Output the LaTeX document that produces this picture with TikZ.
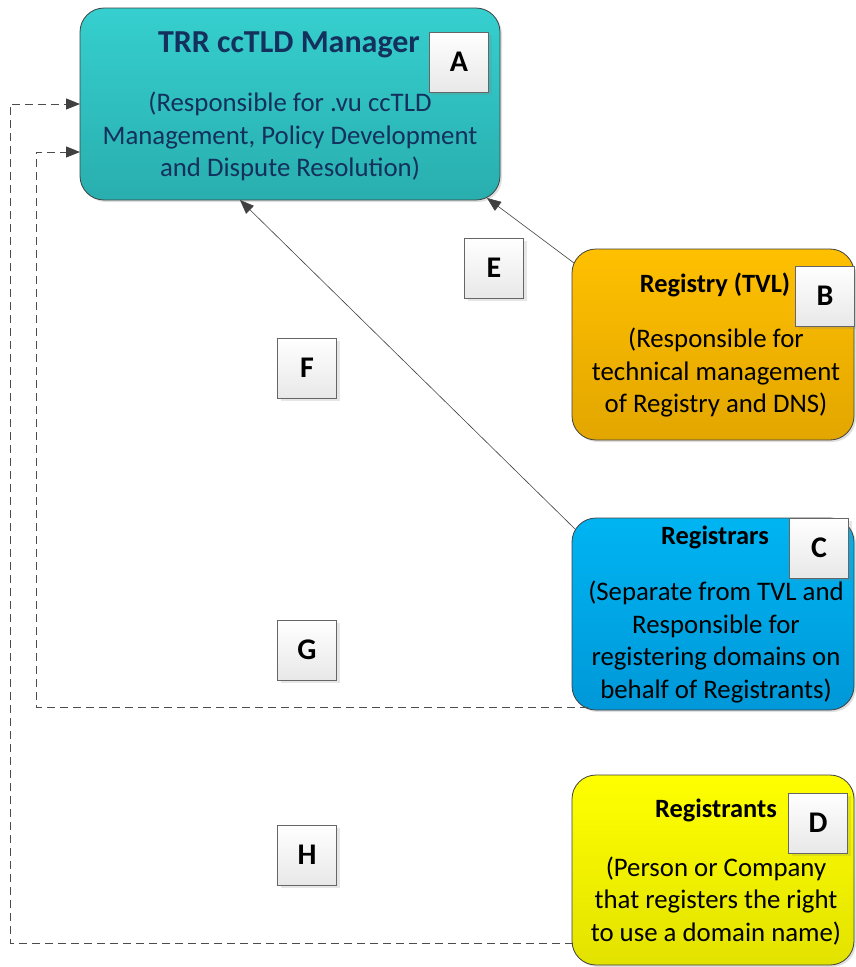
\documentclass[tikz,border=0pt]{standalone}
\usepackage{fontspec}
\setmainfont{Carlito}
\usetikzlibrary{arrows.meta,shadows}
\definecolor{navy}{HTML}{14305C}
\definecolor{tealT}{HTML}{36CFCF}
\definecolor{tealB}{HTML}{29AEAE}
\definecolor{orgT}{HTML}{FFC000}
\definecolor{orgB}{HTML}{E2A600}
\definecolor{bluT}{HTML}{00B4F2}
\definecolor{bluB}{HTML}{0098D8}
\definecolor{yelT}{HTML}{FFFF00}
\definecolor{yelB}{HTML}{E2E200}
\definecolor{lineC}{HTML}{404040}
\tikzset{
  bigbox/.style={draw=lineC, line width=0.8pt, rounded corners=24pt, inner sep=0pt,
    drop shadow={opacity=0.25, shadow xshift=2pt, shadow yshift=-2pt}},
  lbl/.style={draw=gray!80!black, line width=0.8pt, top color=white, bottom color=black!9,
    minimum width=59pt, minimum height=60pt, inner sep=0pt,
    font=\fontsize{30}{34}\selectfont\bfseries,
    drop shadow={opacity=0.2, shadow xshift=3pt, shadow yshift=-3pt}},
  ttl/.style={inner sep=0pt, font=\fontsize{26.4}{30}\selectfont\bfseries},
  body/.style={inner sep=0pt, align=center, font=\fontsize{26.8}{32.5}\selectfont},
  conn/.style={draw=lineC, line width=0.6pt, -{Triangle[length=14pt,width=11pt]}},
  dline/.style={draw=black!70, line width=1pt, dash pattern=on 8pt off 5pt,
    -{Triangle[length=14pt,width=11pt,color=lineC]}},
}
\begin{document}
\begin{tikzpicture}[x=1pt,y=-1pt]
\useasboundingbox (0,0) rectangle (855,967);
% main boxes
\node[bigbox, top color=tealT, bottom color=tealB, minimum width=420pt, minimum height=192pt] (A) at (290,104) {};
\node[bigbox, top color=orgT, bottom color=orgB, minimum width=282pt, minimum height=191pt] (B) at (713,344.5) {};
\node[bigbox, top color=bluT, bottom color=bluB, minimum width=282pt, minimum height=192pt] (C) at (713,614) {};
\node[bigbox, top color=yelT, bottom color=yelB, minimum width=282pt, minimum height=190pt] (D) at (713,870) {};
% texts
\node[ttl, text=navy, font=\fontsize{32}{36}\selectfont\bfseries] (At) at (289,45) {TRR ccTLD Manager};
\node[body, text=navy] (Ab) at (290,136.5) {(Responsible for .vu ccTLD\\Management, Policy Development\\and Dispute Resolution)};
\node[ttl] (Bt) at (715,285) {Registry (TVL)};
\node[body] (Bb) at (716,373) {(Responsible for\\technical management\\of Registry and DNS)};
\node[ttl] (Ct) at (715,537) {Registrars};
\node[body] (Cb) at (716,642) {(Separate from TVL and\\Responsible for\\registering domains on\\behalf of Registrants)};
\node[ttl] (Dt) at (716,810) {Registrants};
\node[body] (Db) at (716,901) {(Person or Company\\that registers the right\\to use a domain name)};
% letter labels
\node[lbl] (LA) at (459,62) {A};
\node[lbl] (LB) at (825,296) {B};
\node[lbl] (LC) at (819,548) {C};
\node[lbl] (LD) at (818,823) {D};
\node[lbl] (LE) at (494,268) {E};
\node[lbl] (LF) at (307,368) {F};
\node[lbl] (LG) at (307,650) {G};
\node[lbl] (LH) at (307,855) {H};
% connector end points
\coordinate (aB) at (487,198);
\coordinate (bA) at (574,263);
\coordinate (aC) at (240,200);
\coordinate (cA) at (575,529);
\coordinate (aG) at (80,152);
\coordinate (cG) at (588,707);
\coordinate (aH) at (80,104);
\coordinate (dH) at (573,943);
% connectors
\draw[conn] (bA) -- (aB);
\draw[conn] (cA) -- (aC);
\draw[dline] (cG) -- ++(-552,0) |- (aG);
\draw[dline] (dH) -- ++(-563,0) |- (aH);
\end{tikzpicture}
\end{document}
